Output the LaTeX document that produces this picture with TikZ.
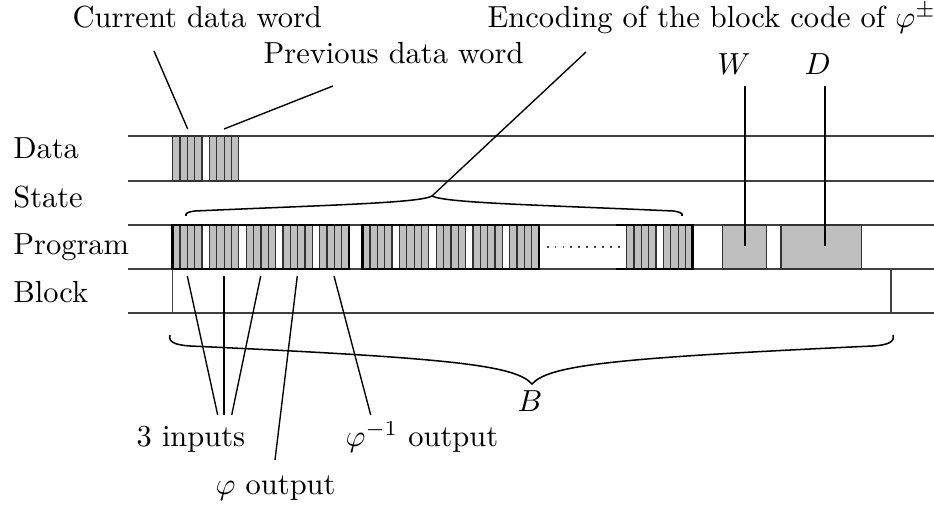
\documentclass[tikz,border=0pt]{standalone}
\begin{document}
\begin{tikzpicture}[x=0.328pt,y=-0.328pt,
  rowline/.style={draw=black!75,line width=0.5pt},
  cellg/.style={draw=black!80,fill=black!25,line width=0.4pt},
  cellw/.style={draw=black!80,fill=white,line width=0.4pt},
  boxframe/.style={draw=black,line width=0.9pt},
  lbl/.style={inner sep=0pt,anchor=base west},
  conn/.style={draw=black,line width=0.45pt},
  bracestyle/.style={draw=black,line width=0.5pt}]
\useasboundingbox (0,0) rectangle (934,508);
\def\cw{7.35}
% row lines
\foreach \yy in {136,181,225,269,313} \draw[rowline] (128.3,\yy) -- (934,\yy);
% data words
\foreach \i in {0,...,3} \draw[cellg] ({172.7+\i*\cw},136) rectangle ({172.7+(\i+1)*\cw},181);
\foreach \i in {5,...,8} \draw[cellg] ({172.7+\i*\cw},136) rectangle ({172.7+(\i+1)*\cw},181);
% program boxes
\foreach \xs in {172.7,362.7} {
  \foreach \i in {0,...,23} {
    \pgfmathtruncatemacro\r{mod(\i,5)}
    \ifnum\r=4
      \draw[cellw] ({\xs+\i*\cw},225) rectangle ({\xs+(\i+1)*\cw},269);
    \else
      \draw[cellg] ({\xs+\i*\cw},225) rectangle ({\xs+(\i+1)*\cw},269);
    \fi
  }
  \draw[boxframe] (\xs,225) rectangle ({\xs+24*\cw},269);
}
\foreach \i in {0,...,8} {
  \ifnum\i=4
    \draw[cellw] ({626.7+\i*\cw},225) rectangle ({626.7+(\i+1)*\cw},269);
  \else
    \draw[cellg] ({626.7+\i*\cw},225) rectangle ({626.7+(\i+1)*\cw},269);
  \fi
}
\draw[boxframe] (615.7,225) -- ({626.7+9*\cw},225) -- ({626.7+9*\cw},269) -- (615.7,269);
\draw[dotted,draw=black!70,line width=0.6pt] (546.7,246.7) -- (620,246.7);
% W and D boxes
\draw[cellg] (722.3,225) rectangle (766.7,269);
\draw[cellg] (781,225) rectangle (861.7,269);
% block row ends
\draw[rowline] (172.7,269) -- (172.7,313);
\draw[rowline] (891,269) -- (891,313);
% braces
\coordinate (tbL) at (186,216); \coordinate (tbR) at (682,216); \coordinate (tbT) at (432,196);
\draw[bracestyle] (tbL) .. controls (185,213) and (188,212) .. (195,211)
   .. controls (330,205) and (420,203) .. (tbT)
   .. controls (445,203) and (540,205) .. (673,211)
   .. controls (680,212) and (683,213) .. (tbR);
\coordinate (bbL) at (170,335); \coordinate (bbR) at (893,335); \coordinate (bbT) at (532,384);
\draw[bracestyle] (bbL) .. controls (168,342) and (175,345) .. (190,346)
   .. controls (450,358) and (515,365) .. (bbT)
   .. controls (549,365) and (614,358) .. (873,346)
   .. controls (888,345) and (895,342) .. (bbR);
% labels
\node[lbl] (lData) at (12.7,159) {Data};
\node[lbl] (lState) at (12.7,208) {State};
\node[lbl] (lProg) at (12.7,255) {Program};
\node[lbl] (lBlock) at (12.7,303) {Block};
\node[lbl] (cur) at (72,28) {Current data word};
\node[lbl] (prev) at (263,64) {Previous data word};
\node[lbl] (enc) at (487,28) {Encoding of the block code of $\varphi^{\pm}$};
\node[lbl] (W) at (717,75) {$W$};
\node[lbl] (D) at (804,75) {$D$};
\node[lbl] (inp) at (136,446.7) {3 inputs};
\node[lbl] (phiinv) at (345,446.7) {$\varphi^{-1}$ output};
\node[lbl] (phi) at (215,495) {$\varphi$ output};
\node[lbl] (B) at (517,411.7) {$B$};
% connector end points
\coordinate (c1) at (154,51);   \coordinate (c2) at (187.7,129);
\coordinate (p1) at (333,86);   \coordinate (p2) at (224,129);
\coordinate (e1) at (586,52);
\coordinate (w1) at (745,86);   \coordinate (w2) at (745,246);
\coordinate (d1) at (825,86);   \coordinate (d2) at (825,246);
\coordinate (g1) at (187.3,276); \coordinate (g2) at (224,276);
\coordinate (g3) at (260.7,276); \coordinate (g4) at (297.3,276);
\coordinate (g5) at (334,276);
\coordinate (i1) at (217.7,415); \coordinate (i2) at (224,415);
\coordinate (i3) at (231.7,415); \coordinate (o1) at (275,460);
\coordinate (o2) at (370.7,415);
\draw[conn] (c1) -- (c2);
\draw[conn] (p1) -- (p2);
\draw[conn] (e1) -- (tbT);
\draw[conn] (w1) -- (w2);
\draw[conn] (d1) -- (d2);
\draw[conn] (g1) -- (i1);
\draw[conn] (g2) -- (i2);
\draw[conn] (g3) -- (i3);
\draw[conn] (g4) -- (o1);
\draw[conn] (g5) -- (o2);
\end{tikzpicture}
\end{document}
